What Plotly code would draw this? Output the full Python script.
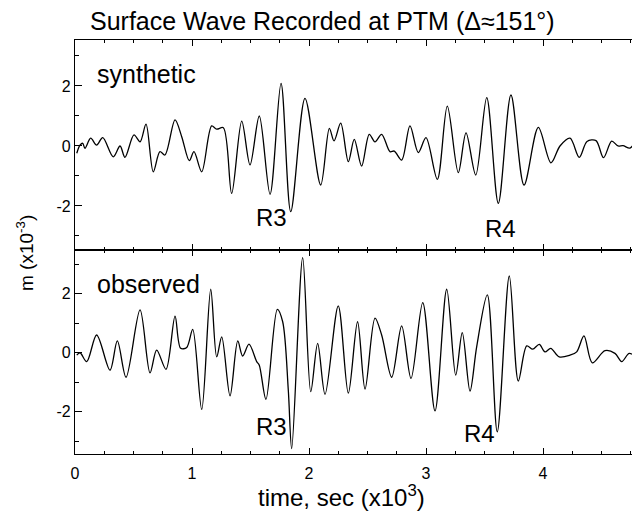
import plotly.graph_objects as go

# time (x10^3 s) and amplitude (x10^-3)
syn_t = [0.015, 0.043, 0.066, 0.085, 0.134, 0.185, 0.237, 0.327, 0.385, 0.427, 0.504, 0.556,
         0.607, 0.669, 0.726, 0.769, 0.855, 0.912, 0.977, 1.017, 1.083, 1.168, 1.211, 1.268,
         1.339, 1.425, 1.496, 1.575, 1.667, 1.761, 1.844, 1.966, 2.100, 2.174, 2.214, 2.271,
         2.336, 2.387, 2.450, 2.515, 2.564, 2.621, 2.692, 2.729, 2.792, 2.863, 2.934, 3.000,
         3.097, 3.182, 3.276, 3.342, 3.425, 3.519, 3.618, 3.726, 3.838, 3.960, 4.068, 4.145,
         4.231, 4.310, 4.376, 4.453, 4.517, 4.587, 4.641, 4.684, 4.744, 4.812, 4.829]
syn_m = [-0.24, 0.03, 0.09, -0.08, 0.26, 0.03, 0.28, -0.36, 0.00, -0.38, 0.37, 0.14,
         0.73, -0.86, -0.19, -0.30, 0.87, 0.31, -0.49, -0.19, -0.86, 0.67, 0.56, 0.61,
         -1.58, 0.83, -0.63, 1.00, -1.61, 2.09, -2.19, 1.59, -1.30, 0.59, 0.17, 0.76,
         -0.52, 0.22, -0.67, 0.39, 0.14, 0.39, -0.19, -0.17, -0.47, 0.67, -0.22, 0.28,
         -1.11, 1.33, -0.89, 0.44, -0.97, 1.61, -1.91, 1.70, -1.30, 0.62, -0.56, 0.00,
         0.26, -0.38, 0.15, 0.18, -0.39, 0.16, 0.00, 0.01, -0.07, 0.22, 0.15]

obs_t = [0.015, 0.043, 0.100, 0.185, 0.299, 0.362, 0.436, 0.556, 0.641, 0.698, 0.778, 0.855,
         0.903, 0.955, 1.006, 1.083, 1.160, 1.211, 1.254, 1.325, 1.391, 1.433, 1.487, 1.553,
         1.575, 1.632, 1.729, 1.775, 1.823, 1.852, 1.946, 2.015, 2.074, 2.137, 2.250, 2.336,
         2.415, 2.479, 2.564, 2.621, 2.707, 2.792, 2.872, 2.972, 3.077, 3.177, 3.254, 3.310,
         3.376, 3.433, 3.524, 3.609, 3.712, 3.789, 3.861, 3.912, 3.968, 4.017, 4.066, 4.139,
         4.231, 4.288, 4.350, 4.421, 4.530, 4.615, 4.673, 4.738, 4.829]
obs_m = [-0.08, 0.00, -0.30, 0.60, -0.59, 0.40, -0.83, 1.45, -0.68, 0.09, -0.56, 1.24,
         0.15, 0.18, 0.79, -1.92, 2.15, -0.14, 0.54, -1.46, 0.40, -0.11, 0.29, -0.30,
         -0.42, -1.58, 1.47, 1.05, -1.26, -3.25, 3.22, -1.32, 0.32, -1.41, 1.59, -1.37,
         1.05, -1.23, 1.17, 0.60, -0.83, 0.91, -0.87, 1.70, -1.97, 2.15, -0.76, 0.68,
         -1.30, 0.20, 1.96, -2.68, 2.60, -0.96, 0.23, 0.12, 0.28, 0.03, 0.15, -0.14,
         -0.08, 0.03, 0.57, -0.34, 0.07, -0.02, -0.30, -0.02, -0.27]

x_ticks = [0, 1, 2, 3, 4]
x_ticktext = ["0", "1", "2", "3", "4"]
y_ticks = [-2, 0, 2]
y_ticktext = ["-2", "0", "2"]
y_minor = [-3, -1, 1, 3]

FONT = "Liberation Sans, Arial, Helvetica, sans-serif"

fig = go.Figure()
fig.add_trace(go.Scatter(x=syn_t, y=syn_m, mode="lines", xaxis="x2", yaxis="y2",
                         line=dict(color="black", width=1.3, shape="spline", smoothing=0.9),
                         showlegend=False, hoverinfo="skip"))
fig.add_trace(go.Scatter(x=obs_t, y=obs_m, mode="lines", xaxis="x", yaxis="y",
                         line=dict(color="black", width=1.3, shape="spline", smoothing=0.9),
                         showlegend=False, hoverinfo="skip"))

common_x = dict(range=[0, 4.829], showgrid=False, zeroline=False, showline=True,
                linecolor="black", linewidth=1.2, mirror="ticks", ticks="inside",
                ticklen=6, tickwidth=1, tickcolor="black",
                tickmode="array", tickvals=x_ticks, ticktext=x_ticktext,
                minor=dict(dtick=0.25, tick0=0, ticks="inside", ticklen=3,
                           tickcolor="black", tickwidth=1))
common_y = dict(showgrid=False, zeroline=False, showline=True,
                linecolor="black", linewidth=1.2, mirror="ticks", ticks="inside",
                ticklen=7, tickwidth=1, tickcolor="black",
                tickmode="array", tickvals=y_ticks, ticktext=y_ticktext,
                tickfont=dict(size=16, color="black", family=FONT),
                minor=dict(tickmode="array", tickvals=y_minor, ticks="inside", ticklen=4,
                           tickcolor="black", tickwidth=1))

split = 204 / 414

# page body has an 8px margin, so the figure is 8px smaller and margins shifted
fig.update_layout(
    width=632, height=504,
    margin=dict(l=67, r=0, t=32, b=58),
    paper_bgcolor="white", plot_bgcolor="white",
    font=dict(family=FONT, color="black"),
    xaxis=dict(**common_x, anchor="y", tickfont=dict(size=16, color="black", family=FONT),
               ticklabelstandoff=5),
    xaxis2=dict(**common_x, anchor="y2", matches="x", showticklabels=False),
    yaxis=dict(**common_y, domain=[0, split], range=[-3.43, 3.48], anchor="x"),
    yaxis2=dict(**common_y, domain=[split, 1], range=[-3.467, 3.533], anchor="x2"),
)

ann = []
ann.append(dict(text="Surface Wave Recorded at PTM (Δ≈151°)", xref="paper", yref="paper",
                x=(322 - 75) / 565, y=(454 - 21) / 414, xanchor="center", yanchor="middle",
                showarrow=False, font=dict(size=25, family=FONT)))
ann.append(dict(text="time, sec (x10<sup>3</sup>)", xref="paper", yref="paper",
                x=(341 - 75) / 565, y=(454 - 496) / 414, xanchor="center", yanchor="middle",
                showarrow=False, font=dict(size=24, family=FONT)))
ann.append(dict(text="m (x10<sup>-3</sup>)", xref="paper", yref="paper",
                x=(25 - 75) / 565, y=(454 - 253) / 414, xanchor="center", yanchor="middle",
                textangle=-90, showarrow=False, font=dict(size=19, family=FONT)))
ann.append(dict(text="synthetic", xref="x2", yref="y2", x=0.171, y=2.40,
                xanchor="left", yanchor="middle", showarrow=False, font=dict(size=25, family=FONT)))
ann.append(dict(text="observed", xref="x", yref="y", x=0.171, y=2.33,
                xanchor="left", yanchor="middle", showarrow=False, font=dict(size=25, family=FONT)))
ann.append(dict(text="R3", xref="x2", yref="y2", x=1.532, y=-2.40,
                xanchor="left", yanchor="middle", showarrow=False, font=dict(size=24, family=FONT)))
ann.append(dict(text="R4", xref="x2", yref="y2", x=3.485, y=-2.74,
                xanchor="left", yanchor="middle", showarrow=False, font=dict(size=24, family=FONT)))
ann.append(dict(text="R3", xref="x", yref="y", x=1.532, y=-2.49,
                xanchor="left", yanchor="middle", showarrow=False, font=dict(size=24, family=FONT)))
ann.append(dict(text="R4", xref="x", yref="y", x=3.305, y=-2.72,
                xanchor="left", yanchor="middle", showarrow=False, font=dict(size=24, family=FONT)))
fig.update_layout(annotations=ann)

fig.write_html("out.html")
